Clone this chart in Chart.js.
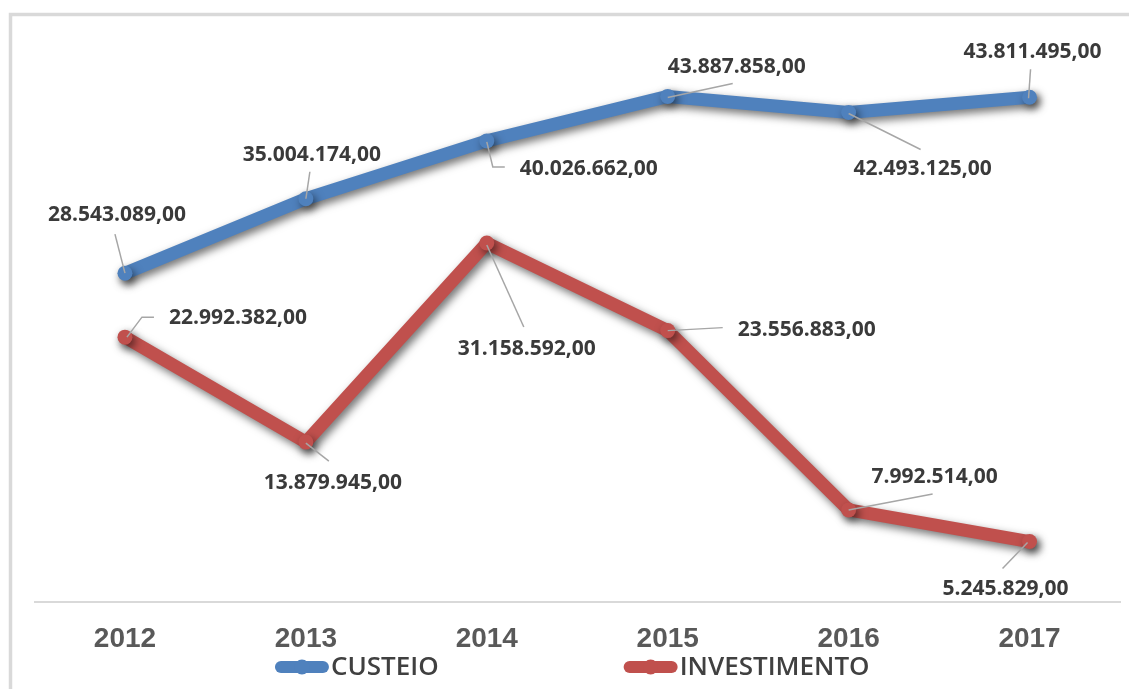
<!DOCTYPE html>
<html>
<head>
<meta charset="utf-8">
<script src="https://cdn.jsdelivr.net/npm/chart.js@4.4.1/dist/chart.umd.min.js"></script>
<style>
  html, body { margin: 0; padding: 0; background: #fff; }
  canvas { display: block; }
</style>
</head>
<body>
<canvas id="grafico" width="1129" height="689"></canvas>
<script>
// dados
const anos = ["2012", "2013", "2014", "2015", "2016", "2017"];
const custeio = [28543089, 35004174, 40026662, 43887858, 42493125, 43811495];
const investimento = [22992382, 13879945, 31158592, 23556883, 7992514, 5245829];
const nomesSeries = ["CUSTEIO", "INVESTIMENTO"];
const coresSeries = ["#4F81BD", "#C0504D"];

// posição dos rótulos em relação ao ponto: centro do texto e linha guia
const posRotulos = [
  [
    { texto: [-8, -58], guia: [[0, 0], [-10, -39]] },
    { texto: [6, -44], guia: [[0, 0], [4, -27]] },
    { texto: [102, 28], guia: [[0, 1], [6, 26], [18, 26]] },
    { texto: [69, -29], guia: [[0, 1], [65, -13]] },
    { texto: [74, 57], guia: [[0, 1], [72, 37]] },
    { texto: [3, -45], guia: [[-1, 1], [1, -28]] }
  ],
  [
    { texto: [113, -19], guia: [[2, 0], [17, -20], [29, -20]] },
    { texto: [27, 41], guia: [[0, 1], [23, 19]] },
    { texto: [40, 106], guia: [[0, 2], [37, 84]] },
    { texto: [139, -1], guia: [[0, 0], [55, -3]] },
    { texto: [86, -33], guia: [[0, 0], [84, -16]] },
    { texto: [-24, 47], guia: [[-2, 1], [-27, 27]] }
  ]
];

function formatar(v) {
  const s = String(Math.round(v));
  return s.replace(/\B(?=(\d{3})+(?!\d))/g, ".") + ",00";
}

// moldura cinza em volta do gráfico
const moldura = {
  id: "moldura",
  beforeDraw(chart) {
    const c = chart.ctx;
    c.save();
    c.fillStyle = "#fff";
    c.fillRect(0, 0, chart.width, chart.height);
    c.strokeStyle = "#d9d9d9";
    c.lineWidth = 3.5;
    c.beginPath();
    c.moveTo(10.5, chart.height);
    c.lineTo(10.5, 14.5);
    c.lineTo(chart.width, 14.5);
    c.stroke();
    c.restore();
  }
};

// sombra das linhas
const sombra = {
  id: "sombra",
  beforeDatasetDraw(chart) {
    const c = chart.ctx;
    c.save();
    c.shadowColor = "rgba(0,0,0,0.55)";
    c.shadowBlur = 8;
    c.shadowOffsetX = 3;
    c.shadowOffsetY = 4;
  },
  afterDatasetDraw(chart) {
    chart.ctx.restore();
  }
};

// rótulos de dados com linhas guia
const rotulos = {
  id: "rotulos",
  afterDatasetsDraw(chart) {
    const c = chart.ctx;
    c.save();
    chart.data.datasets.forEach((ds, i) => {
      const meta = chart.getDatasetMeta(i);
      meta.data.forEach((pt, j) => {
        const p = posRotulos[i][j];
        c.strokeStyle = "#a6a6a6";
        c.lineWidth = 1.5;
        c.beginPath();
        p.guia.forEach((g, k) => {
          if (k === 0) c.moveTo(pt.x + g[0], pt.y + g[1]);
          else c.lineTo(pt.x + g[0], pt.y + g[1]);
        });
        c.stroke();
        c.fillStyle = "#3a3a3a";
        c.font = "bold 21px 'Open Sans'";
        c.textAlign = "center";
        c.textBaseline = "middle";
        c.fillText(formatar(ds.data[j]), pt.x + p.texto[0], pt.y + p.texto[1]);
      });
    });
    c.restore();
  }
};

// legenda embaixo, linha grossa com marcador
const legenda = {
  id: "legenda",
  afterDraw(chart) {
    const c = chart.ctx;
    c.save();
    c.font = "600 26px 'Open Sans'";
    const simb = 54, folga = 2, entre = 185;
    const larg = chart.data.datasets.map(d => c.measureText(d.label).width);
    const total = larg.reduce((a, b) => a + b, 0) + 2 * (simb + folga) + entre;
    const meio = (chart.chartArea.left + chart.chartArea.right) / 2 - 5;
    let x = meio - total / 2;
    const y = 667;
    chart.data.datasets.forEach((d, i) => {
      c.strokeStyle = d.borderColor;
      c.lineWidth = 12;
      c.lineCap = "round";
      c.beginPath();
      c.moveTo(x + 6, y);
      c.lineTo(x + simb - 6, y);
      c.stroke();
      c.fillStyle = d.borderColor;
      c.beginPath();
      c.arc(x + simb / 2, y, 7.5, 0, Math.PI * 2);
      c.fill();
      c.fillStyle = "#404040";
      c.textAlign = "left";
      c.textBaseline = "middle";
      c.fillText(d.label, x + simb + folga, y + 1);
      x += simb + folga + larg[i] + entre;
    });
    c.restore();
  }
};

const series = [custeio, investimento];

new Chart(document.getElementById("grafico"), {
  type: "line",
  data: {
    labels: anos,
    datasets: series.map((valores, i) => ({
      label: nomesSeries[i],
      data: valores,
      borderColor: coresSeries[i],
      backgroundColor: coresSeries[i],
      borderWidth: 13,
      borderJoinStyle: "round",
      borderCapStyle: "round",
      pointRadius: 7.5,
      pointBorderWidth: 0,
      pointBackgroundColor: coresSeries[i],
      tension: 0,
      clip: false
    }))
  },
  options: {
    responsive: false,
    animation: false,
    layout: { padding: { top: 26, left: 34.5, right: 9, bottom: 13.4 } },
    plugins: {
      legend: { display: false },
      tooltip: { enabled: false }
    },
    scales: {
      x: {
        offset: true,
        grid: { display: false, drawTicks: false },
        border: { display: true, color: "#d9d9d9", width: 2 },
        ticks: {
          color: "#595959",
          padding: 20,
          font: { family: "'Liberation Sans'", weight: "bold", size: 28 }
        }
      },
      y: {
        display: false,
        min: 0,
        max: 50000000
      }
    }
  },
  plugins: [moldura, sombra, rotulos, legenda]
});
</script>
</body>
</html>
